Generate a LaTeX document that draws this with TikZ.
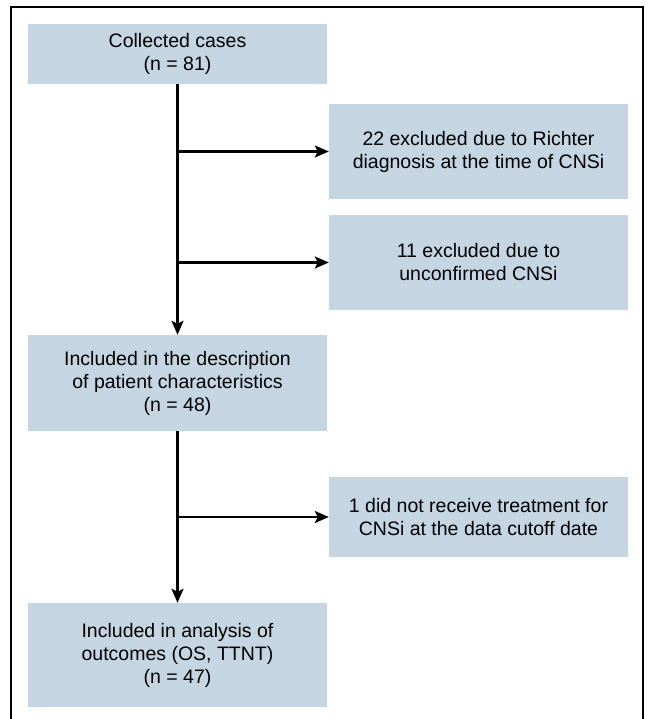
\documentclass[tikz,border=0pt]{standalone}
\usepackage{fontspec}
\setmainfont{Liberation Sans}
\usepackage{xcolor}
\usetikzlibrary{arrows,arrows.meta,shapes,positioning}
\definecolor{boxblue}{RGB}{197,213,226}
\tikzstyle{box} = [rectangle, fill=boxblue, minimum width=299pt, inner sep=0pt, align=center, font=\fontsize{19.5}{23}\selectfont]
\tikzstyle{arrow} = [line width=2.2pt,-{Stealth[length=14pt,width=12pt,inset=3pt]}]
\tikzstyle{frame} = [line width=1.6pt, -]

\begin{document}
\begin{tikzpicture}[x=1pt,y=-1pt]
                    \useasboundingbox (0,0) rectangle (649,719);
                    \draw [frame] (11,730) -- (11,7) -- (643,7) -- (643,730);
                    \node (collected) at (177.5,54) [box, minimum height=60pt] {Collected cases\\(n = 81)};
                    \node (richter) at (478.5,151.5) [box, minimum height=95pt] {22 excluded due to Richter\\diagnosis at the time of CNSi};
                    \node (unconfirmed) at (478.5,262.5) [box, minimum height=95pt] {11 excluded due to\\unconfirmed CNSi};
                    \node (description) at (177.5,383) [box, minimum height=96pt] {Included in the description\\of patient characteristics\\(n = 48)};
                    \node (notreated) at (478.5,517) [box, minimum height=80pt] {1 did not receive treatment for\\CNSi at the data cutoff date};
                    \node (outcomes) at (177.5,655) [box, minimum height=104pt] {Included in analysis of\\outcomes (OS, TTNT)\\(n = 47)};
                    \draw [arrow] (collected.south) -- (description.north);
                    \draw [arrow] (collected.south |- richter.west) -- (richter.west);
                    \draw [arrow] (collected.south |- unconfirmed.west) -- (unconfirmed.west);
                    \draw [arrow] (description.south) -- (outcomes.north);
                    \draw [arrow] (description.south |- notreated.west) -- (notreated.west);
                \end{tikzpicture}
\end{document}
